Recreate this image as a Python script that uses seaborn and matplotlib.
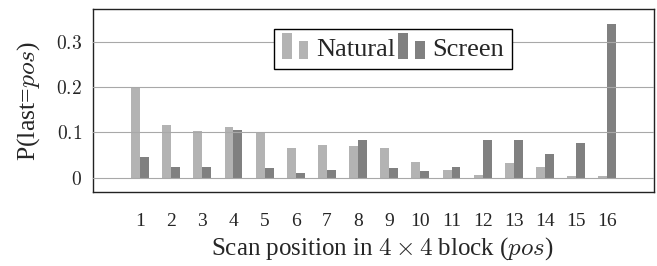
import numpy as np
import pandas as pd
import matplotlib
matplotlib.use("Agg")
import matplotlib.pyplot as plt
from matplotlib.patches import Rectangle
from matplotlib.legend_handler import HandlerBase
import seaborn as sns

# ---- data ----
positions = [str(i) for i in range(1, 17)]
natural = [0.200, 0.116, 0.103, 0.111, 0.100, 0.066, 0.072, 0.070,
           0.066, 0.035, 0.016, 0.006, 0.032, 0.023, 0.003, 0.004]
screen = [0.046, 0.023, 0.024, 0.105, 0.021, 0.010, 0.018, 0.083,
          0.021, 0.014, 0.024, 0.084, 0.083, 0.052, 0.077, 0.340]
series_names = ["Natural", "Screen"]
yticks = [0, 0.1, 0.2, 0.3]
ytick_labels = ["$0$", "$0.1$", "$0.2$", "$0.3$"]

df = pd.DataFrame({
    "pos": positions * 2,
    "value": natural + screen,
    "series": [series_names[0]] * len(natural) + [series_names[1]] * len(screen),
})

sns.set_theme(style="white")
SERIF = ["Liberation Serif", "DejaVu Serif"]
plt.rcParams["font.family"] = SERIF
plt.rcParams["mathtext.fontset"] = "cm"

colors = {"Natural": "#b3b3b3", "Screen": "#808080"}

fig = plt.figure(figsize=(6.57, 2.66), dpi=100)
ax = fig.add_axes([93.3 / 657, (266 - 192) / 266, (654 - 93.3) / 657, (192 - 9.3) / 266])

sns.barplot(data=df, x="pos", y="value", hue="series", order=positions,
            hue_order=series_names, palette=colors, width=0.57,
            saturation=1, ax=ax, legend=False, linewidth=0)

ax.set_xlim(-1.5, 16.5)
ax.set_ylim(-0.0316, 0.3717)
ax.set_yticks(yticks, labels=ytick_labels)
ax.yaxis.grid(True, color="#a8a8a8", linewidth=0.8)
ax.set_axisbelow(False)
ax.tick_params(axis="x", length=0, pad=15, labelsize=14)
ax.tick_params(axis="y", length=0, pad=8, labelsize=14)
for lab in ax.get_xticklabels():
    lab.set_fontfamily(SERIF)
for s in ax.spines.values():
    s.set_color("#222222")
    s.set_linewidth(1.0)

ax.set_xlabel("Scan position in $4 \\times 4$ block ($pos$)", fontsize=18,
              fontfamily=SERIF)
ax.xaxis.set_label_coords(0.516, -0.235)
ax.set_ylabel("P(last=$pos$)", fontsize=18.5, fontfamily=SERIF)
ax.yaxis.set_label_coords(-0.092, 0.5)


class TwoBarHandler(HandlerBase):
    def __init__(self, color):
        super().__init__()
        self.color = color

    def create_artists(self, legend, orig_handle, xdescent, ydescent,
                       width, height, fontsize, trans):
        w = width * 0.32
        r1 = Rectangle((0, -ydescent - 0.2 * height), w, height * 1.45,
                       facecolor=self.color, edgecolor="none", transform=trans)
        r2 = Rectangle((width * 0.58, -ydescent - 0.2 * height), w, height * 1.0,
                       facecolor=self.color, edgecolor="none", transform=trans)
        return [r1, r2]


h1 = Rectangle((0, 0), 1, 1, color=colors["Natural"])
h2 = Rectangle((0, 0), 1, 1, color=colors["Screen"])
leg = ax.legend([h1, h2], series_names,
                handler_map={h1: TwoBarHandler(colors["Natural"]),
                             h2: TwoBarHandler(colors["Screen"])},
                ncol=2, loc="upper left", bbox_to_anchor=(0.323, 0.89),
                prop={"family": SERIF, "size": 19}, frameon=True, fancybox=False,
                handlelength=1.1, handletextpad=0.2, columnspacing=0.1,
                borderpad=0.3, borderaxespad=0)
leg.get_frame().set_edgecolor("black")
leg.get_frame().set_linewidth(1.0)
leg.get_frame().set_alpha(1)

fig.savefig("out.png", dpi=100)
